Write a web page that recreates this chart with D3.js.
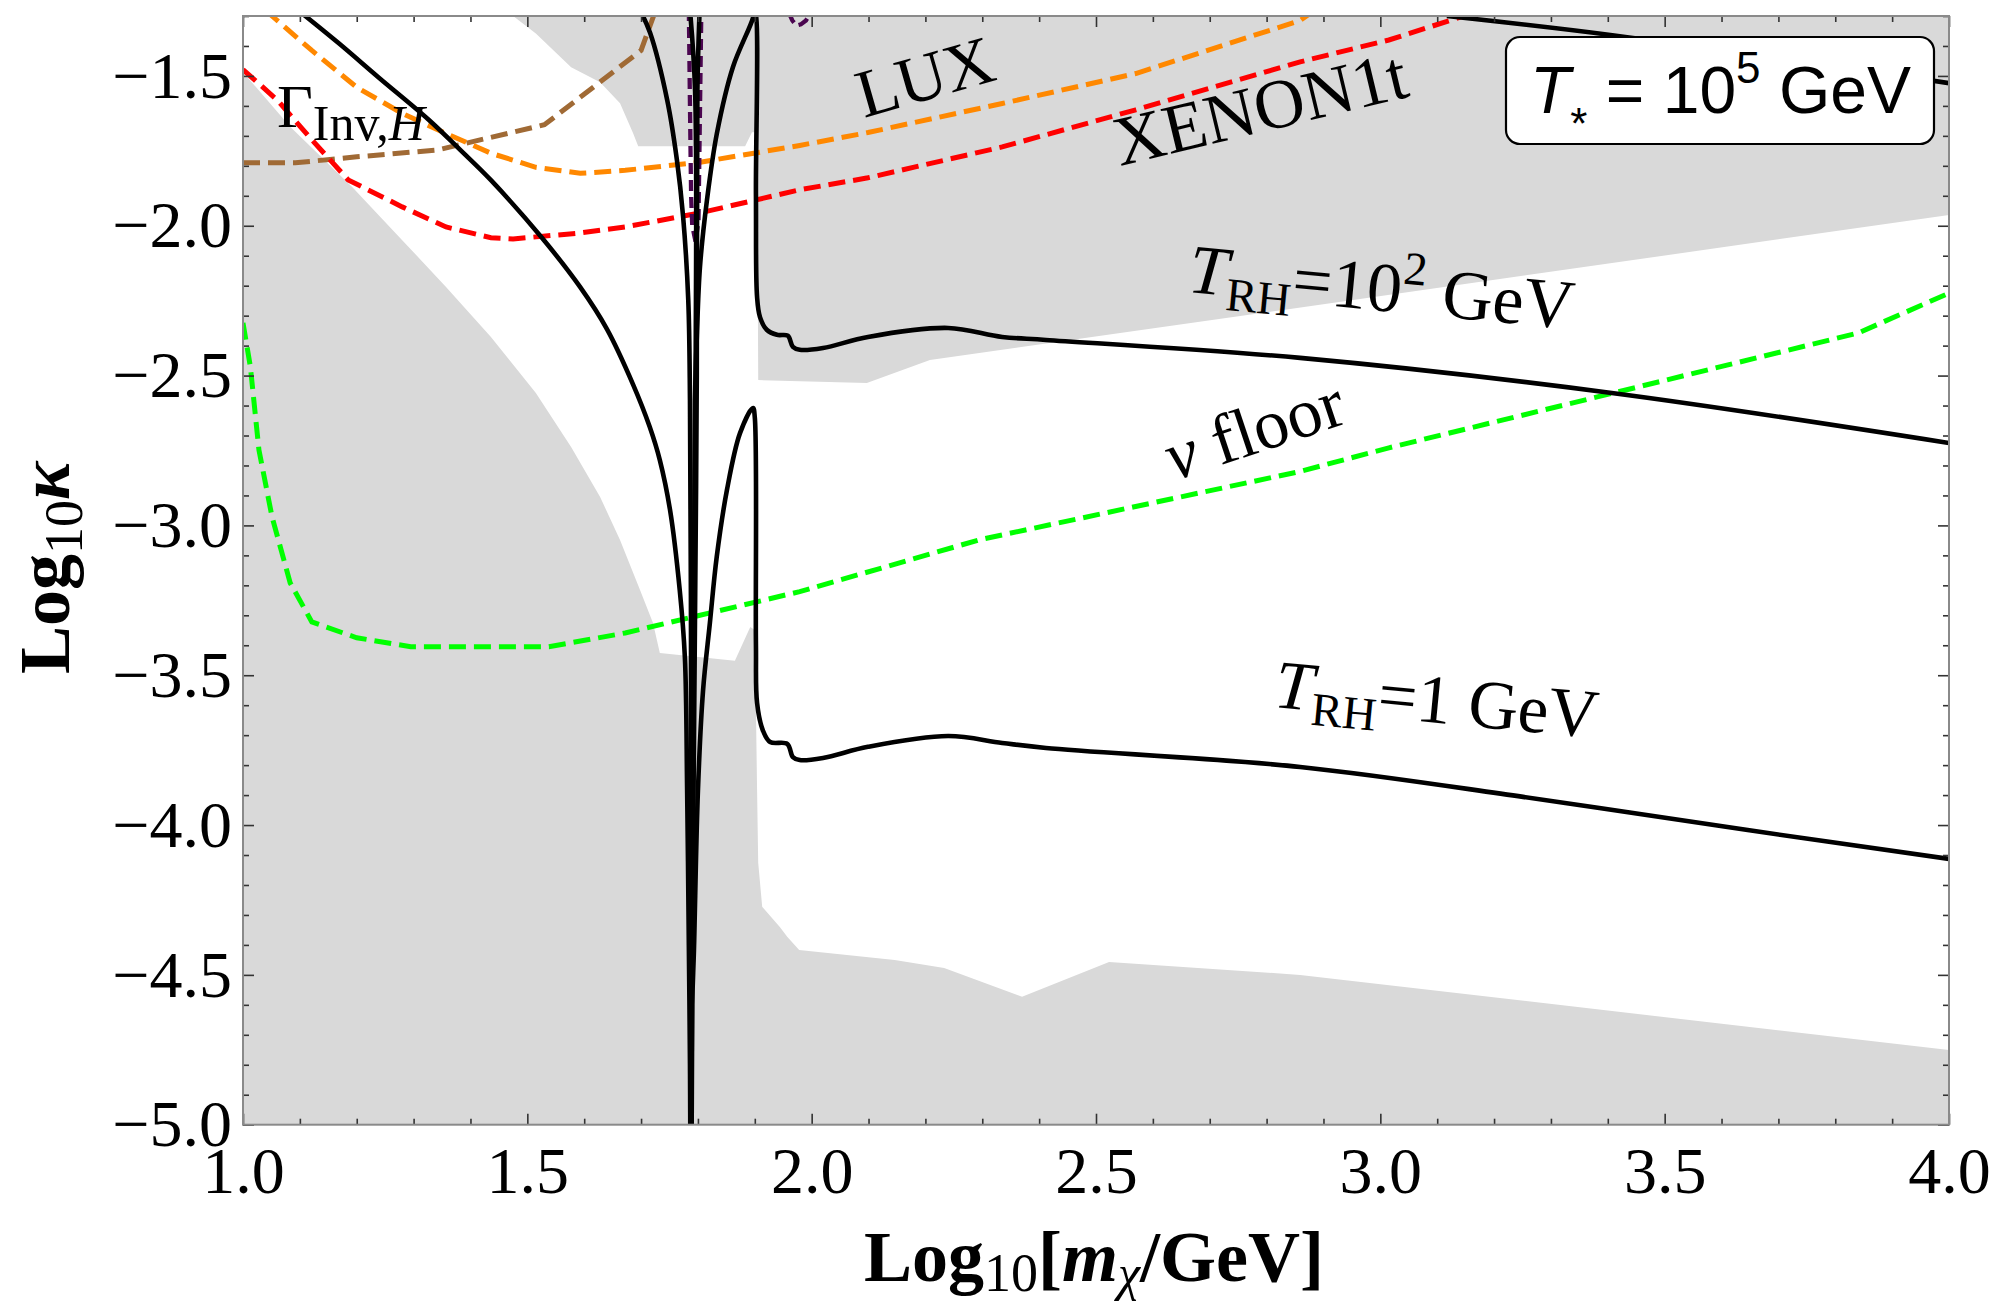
<!DOCTYPE html>
<html>
<head>
<meta charset="utf-8">
<script src="https://cdn.jsdelivr.net/npm/d3@7"></script>
<style>
  html, body { margin: 0; padding: 0; background: #ffffff; }
  svg { display: block; }
  text { white-space: pre; }
</style>
</head>
<body>
<svg id="chart" width="1995" height="1305"></svg>
<script>
// ---- axis ticks -------------------------------------------------------
const xTicks = [1.0, 1.5, 2.0, 2.5, 3.0, 3.5, 4.0];
const yTicks = [-5.0, -4.5, -4.0, -3.5, -3.0, -2.5, -2.0, -1.5];
const xDomain = [1.0, 4.0];
const yDomain = [-5.0, -1.3];

// ---- shaded (excluded) regions: [log10 m, log10 kappa] ----------------
const shadeLower = [
  [1.0, -5.0], [1.0, -1.487], [1.083, -1.670], [1.192, -1.871], [1.280, -2.048],
  [1.357, -2.204], [1.436, -2.371], [1.515, -2.558], [1.577, -2.738], [1.628, -2.905],
  [1.663, -3.049], [1.698, -3.215], [1.721, -3.326], [1.733, -3.426], [1.865, -3.452],
  [1.892, -3.339], [1.900, -3.349], [1.904, -3.883], [1.906, -4.126], [1.913, -4.273],
  [1.944, -4.340], [1.957, -4.373], [1.978, -4.417], [2.146, -4.450], [2.233, -4.477],
  [2.370, -4.573], [2.523, -4.457], [2.859, -4.500], [4.0, -4.751], [4.0, -5.0]
];
const shadeUpper = [
  [1.475, -1.30], [1.515, -1.358], [1.577, -1.471], [1.628, -1.521], [1.663, -1.591],
  [1.686, -1.691], [1.695, -1.735], [1.883, -1.735], [1.895, -1.688], [1.904, -1.688],
  [1.906, -2.515], [2.097, -2.525], [2.208, -2.448], [2.829, -2.281], [4.0, -1.964],
  [4.0, -1.30]
];

// ---- relic-abundance curves for fixed reheating temperature -----------
const trhOne = [
  [1.698, -1.28], [1.716, -1.357], [1.746, -1.581], [1.763, -1.780], [1.774, -1.971],
  [1.783, -2.248], [1.786, -2.582], [1.788, -3.583], [1.788, -4.60], [1.789, -5.40],
  [1.790, -4.60], [1.793, -4.417], [1.800, -3.885], [1.809, -3.551], [1.821, -3.326],
  [1.833, -3.106], [1.851, -2.882], [1.874, -2.692], [1.8968, -2.608],
  [1.900, -2.640], [1.902, -3.400], [1.904, -3.593], [1.914, -3.683], [1.927, -3.723],
  [1.957, -3.729], [1.967, -3.773], [1.979, -3.783], [2.020, -3.776], [2.099, -3.739],
  [2.240, -3.703], [2.335, -3.726], [2.412, -3.743], [2.859, -3.806], [3.251, -3.906],
  [3.643, -4.016], [4.0, -4.113]
];
const trhHundred = [
  [1.103, -1.29], [1.169, -1.392], [1.239, -1.506], [1.327, -1.647], [1.382, -1.747],
  [1.436, -1.848], [1.526, -2.041], [1.593, -2.205], [1.640, -2.345], [1.686, -2.530],
  [1.715, -2.670], [1.733, -2.782], [1.751, -2.949], [1.768, -3.216], [1.777, -3.439],
  [1.781, -3.883], [1.784, -4.400], [1.786, -4.80], [1.7875, -5.40],
  [1.789, -4.80], [1.7930, -3.250], [1.7948, -2.582], [1.7983, -2.358], [1.8036, -2.137],
  [1.8159, -1.914], [1.8335, -1.690], [1.8616, -1.470], [1.8968, -1.306], [1.8985, -1.28],
  [1.9005, -1.28], [1.902, -1.900], [1.904, -2.238], [1.909, -2.304], [1.921, -2.347],
  [1.939, -2.364], [1.958, -2.367], [1.967, -2.404], [1.979, -2.414], [2.020, -2.408],
  [2.099, -2.371], [2.240, -2.341], [2.335, -2.371], [2.412, -2.381], [2.859, -2.441],
  [3.407, -2.558], [4.0, -2.725]
];
const trhHighSpike = [
  [1.786, -1.28], [1.795, -1.55], [1.796, -2.50], [1.793, -3.50], [1.791, -4.14],
  [1.794, -3.50], [1.798, -2.50], [1.799, -1.55], [1.803, -1.28]
];
const trhHighTail = [
  [3.117, -1.30], [3.408, -1.364], [4.0, -1.524]
];

// ---- experimental and theoretical bounds ------------------------------
const luxLimit = [
  [1.040, -1.28], [1.051, -1.30], [1.121, -1.415], [1.200, -1.538], [1.280, -1.625],
  [1.357, -1.692], [1.436, -1.758], [1.515, -1.805], [1.593, -1.825], [1.672, -1.815],
  [1.804, -1.788], [1.979, -1.732], [2.099, -1.689], [2.335, -1.592], [2.570, -1.492],
  [2.859, -1.315], [2.885, -1.28]
];
const xenonLimit = [
  [1.0, -1.479], [1.060, -1.580], [1.121, -1.713], [1.185, -1.847], [1.280, -1.937],
  [1.357, -2.004], [1.436, -2.040], [1.475, -2.044], [1.593, -2.024], [1.672, -2.004],
  [1.804, -1.957], [1.979, -1.880], [2.099, -1.840], [2.335, -1.737], [2.570, -1.613],
  [2.859, -1.453], [3.015, -1.380], [3.142, -1.303], [3.150, -1.28]
];
const higgsInvisible = [
  [1.0, -1.790], [1.092, -1.790], [1.200, -1.770], [1.342, -1.747], [1.530, -1.663],
  [1.700, -1.415], [1.722, -1.30], [1.723, -1.28]
];
const neutrinoFloor = [
  [1.0, -2.324], [1.013, -2.471], [1.028, -2.748], [1.051, -2.971], [1.083, -3.192],
  [1.121, -3.322], [1.200, -3.375], [1.295, -3.405], [1.538, -3.405], [1.672, -3.359],
  [1.979, -3.221], [2.295, -3.048], [2.859, -2.820], [3.015, -2.741], [3.408, -2.559],
  [3.840, -2.358], [4.0, -2.225]
];
const resonanceContour = [
  [1.784, -1.28], [1.786, -1.60], [1.788, -1.90], [1.790, -2.00], [1.796, -2.055],
  [1.801, -1.98], [1.803, -1.70], [1.806, -1.28]
];
const resonanceTip = [
  [1.960, -1.29], [1.966, -1.315], [1.973, -1.332], [1.981, -1.328], [1.990, -1.315],
  [1.998, -1.29]
];

// ---- layout -------------------------------------------------------------
const plot = { left: 243, right: 1949, top: 16, bottom: 1124.7 };
const svg = d3.select("#chart");

const x = d3.scaleLinear().domain(xDomain).range([plot.left, plot.right]);
const y = d3.scaleLinear().domain(yDomain).range([plot.bottom, plot.top]);

const line = d3.line().x(d => x(d[0])).y(d => y(d[1])).curve(d3.curveLinear);
const smoothLine = d3.line().x(d => x(d[0])).y(d => y(d[1])).curve(d3.curveCatmullRom.alpha(0.5));

svg.append("defs").append("clipPath").attr("id", "plot-clip")
  .append("rect")
  .attr("x", plot.left).attr("y", plot.top)
  .attr("width", plot.right - plot.left).attr("height", plot.bottom - plot.top);

const body = svg.append("g").attr("clip-path", "url(#plot-clip)");

// shaded regions
[shadeLower, shadeUpper].forEach(poly => {
  body.append("path")
    .attr("d", line(poly) + "Z")
    .attr("fill", "#d9d9d9")
    .attr("stroke", "none");
});

// dashed bounds
const dashed = [
  { data: neutrinoFloor, color: "#00ff00" },
  { data: higgsInvisible, color: "#a06a35" },
  { data: luxLimit, color: "#ff8800" },
  { data: xenonLimit, color: "#ff0000" }
];
dashed.forEach(s => {
  body.append("path")
    .attr("d", line(s.data))
    .attr("fill", "none")
    .attr("stroke", s.color)
    .attr("stroke-width", 5)
    .attr("stroke-dasharray", "17,8");
});

[resonanceContour, resonanceTip].forEach(s => {
  body.append("path")
    .attr("d", line(s))
    .attr("fill", "none")
    .attr("stroke", "#4b0650")
    .attr("stroke-width", 4.3)
    .attr("stroke-dasharray", "11,6");
});

// solid reheating curves
[trhOne, trhHundred, trhHighSpike, trhHighTail].forEach(s => {
  body.append("path")
    .attr("d", smoothLine(s))
    .attr("fill", "none")
    .attr("stroke", "#000000")
    .attr("stroke-width", 4.6)
    .attr("stroke-linejoin", "round");
});

// ---- frame and ticks ---------------------------------------------------
const minorX = d3.range(10, 41).map(v => v / 10).filter(v => !xTicks.some(t => Math.abs(t - v) < 1e-9));
const minorY = d3.range(-50, -12).map(v => v / 10).filter(v => !yTicks.some(t => Math.abs(t - v) < 1e-9));

function styleAxis(g) {
  g.select(".domain").remove();
  g.selectAll(".tick line").attr("stroke", "#333").attr("stroke-width", 1.6);
}

const fmt = d3.format(".1f");
const serif = "'Liberation Serif', 'Times New Roman', serif";

// bottom
svg.append("g").attr("transform", `translate(0,${plot.bottom})`)
  .call(d3.axisBottom(x).tickValues(xTicks).tickSize(-11).tickPadding(21.5).tickFormat(fmt))
  .call(styleAxis)
  .call(g => g.selectAll("text").attr("font-family", serif).attr("font-size", 66).attr("fill", "#000"));
svg.append("g").attr("transform", `translate(0,${plot.bottom})`)
  .call(d3.axisBottom(x).tickValues(minorX).tickSize(-6).tickFormat(""))
  .call(styleAxis);
// top
svg.append("g").attr("transform", `translate(0,${plot.top})`)
  .call(d3.axisTop(x).tickValues(xTicks).tickSize(-11).tickFormat(""))
  .call(styleAxis);
svg.append("g").attr("transform", `translate(0,${plot.top})`)
  .call(d3.axisTop(x).tickValues(minorX).tickSize(-6).tickFormat(""))
  .call(styleAxis);
// left
svg.append("g").attr("transform", `translate(${plot.left},0)`)
  .call(d3.axisLeft(y).tickValues(yTicks).tickSize(-11).tickPadding(11).tickFormat(fmt))
  .call(styleAxis)
  .call(g => g.selectAll("text").attr("font-family", serif).attr("font-size", 66).attr("fill", "#000"));
svg.append("g").attr("transform", `translate(${plot.left},0)`)
  .call(d3.axisLeft(y).tickValues(minorY).tickSize(-6).tickFormat(""))
  .call(styleAxis);
// right
svg.append("g").attr("transform", `translate(${plot.right},0)`)
  .call(d3.axisRight(y).tickValues(yTicks).tickSize(-11).tickFormat(""))
  .call(styleAxis);
svg.append("g").attr("transform", `translate(${plot.right},0)`)
  .call(d3.axisRight(y).tickValues(minorY).tickSize(-6).tickFormat(""))
  .call(styleAxis);

svg.append("rect")
  .attr("x", plot.left).attr("y", plot.top)
  .attr("width", plot.right - plot.left).attr("height", plot.bottom - plot.top)
  .attr("fill", "none").attr("stroke", "#8a8a8a").attr("stroke-width", 2);

// ---- helper for rich text ------------------------------------------------
function richText(parent, tx, ty, angle, size, parts, family, anchor) {
  const t = parent.append("text")
    .attr("transform", `translate(${tx},${ty}) rotate(${angle})`)
    .attr("font-family", family || serif)
    .attr("font-size", size)
    .attr("fill", "#000")
    .attr("text-anchor", anchor || "start");
  parts.forEach(p => {
    const s = t.append("tspan").text(p.t);
    if (p.size) s.attr("font-size", p.size);
    if (p.dy) s.attr("dy", p.dy);
    if (p.italic) s.attr("font-style", "italic");
    if (p.bold) s.attr("font-weight", "bold");
  });
  return t;
}

// ---- curve labels ----------------------------------------------------------
richText(svg, 864, 118, -16, 68, [{ t: "LUX" }]);
richText(svg, 1120, 166, -13.5, 70, [{ t: "XENON1t" }]);
richText(svg, 1174, 481, -18.5, 70, [{ t: "ν", italic: true }, { t: "\u00A0floor" }]);
richText(svg, 1187, 292, 5.5, 70, [
  { t: "T", italic: true }, { t: "RH", size: 47, dy: 14 }, { t: "=10", dy: -14 },
  { t: "2", size: 47, dy: -29 }, { t: "\u00A0GeV", dy: 29 }
]);
richText(svg, 1273, 707, 5.5, 69, [
  { t: "T", italic: true }, { t: "RH", size: 47, dy: 14 }, { t: "=1\u00A0GeV", dy: -14 }
]);
richText(svg, 277, 127, 0, 62, [
  { t: "Γ" }, { t: "Inv,", size: 50, dy: 13 }, { t: "H", size: 50, italic: true }
]);

// ---- temperature box -------------------------------------------------------
svg.append("rect")
  .attr("x", 1506).attr("y", 37).attr("width", 428).attr("height", 107)
  .attr("rx", 14).attr("ry", 14)
  .attr("fill", "#ffffff").attr("stroke", "#000").attr("stroke-width", 2.2);
richText(svg, 1530, 113, 0, 66, [
  { t: "T", italic: true }, { t: "*", size: 44, dy: 26 }, { t: "\u00A0=\u00A010", dy: -26 },
  { t: "5", size: 44, dy: -30 }, { t: "\u00A0GeV", dy: 30 }
], "'Liberation Sans', Arial, sans-serif");

// ---- axis titles -------------------------------------------------------------
richText(svg, 1094, 1281, 0, 72, [
  { t: "Log", bold: true }, { t: "10", size: 54, dy: 10 }, { t: "[", bold: true, dy: -10 },
  { t: "m", bold: true, italic: true }, { t: "χ", size: 50, italic: true, dy: 9 },
  { t: "/GeV]", bold: true, dy: -9 }
], serif, "middle");
richText(svg, 69, 568, -90, 72, [
  { t: "Log", bold: true }, { t: "10", size: 54, dy: 13 },
  { t: "κ", bold: true, italic: true, dy: -13 }
], serif, "middle");
</script>
</body>
</html>
